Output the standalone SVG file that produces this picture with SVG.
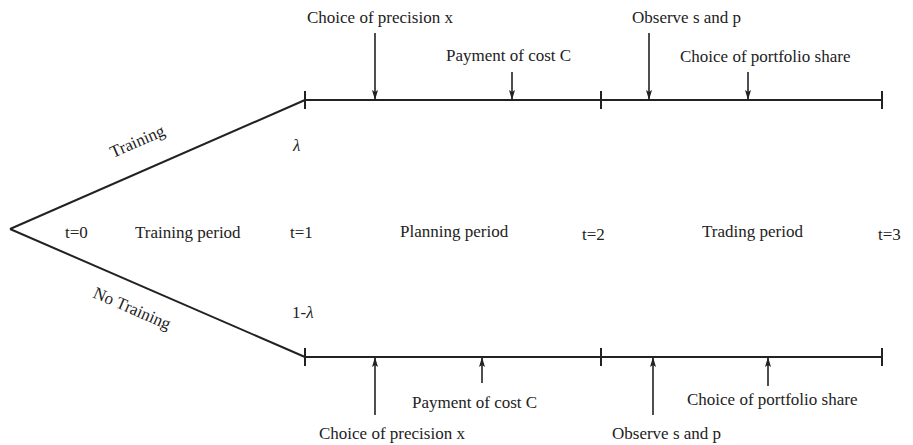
<svg xmlns="http://www.w3.org/2000/svg" width="913" height="445" viewBox="0 0 913 445">
<style>
text{font-family:"Liberation Serif","Times New Roman",serif;font-size:17px;fill:#222}
.ln{stroke:#222;stroke-width:2;fill:none}
.ar{stroke:#222;stroke-width:1.6;fill:none;marker-end:url(#ah)}
.lam{font-style:italic}
</style>
<defs>
<marker id="ah" viewBox="0 0 10 6" refX="10" refY="3" markerWidth="10" markerHeight="6" markerUnits="userSpaceOnUse" orient="auto">
<path d="M0,0 L10,3 L0,6 L2,3 Z" fill="#222"/>
</marker>
</defs>
<g id="connectors">
<line class="ln" x1="10" y1="229" x2="305" y2="100"/>
<line class="ln" x1="10" y1="229" x2="305" y2="357"/>
<line class="ln" x1="305" y1="100" x2="882" y2="100"/>
<line class="ln" x1="305" y1="357" x2="882" y2="357"/>
<line class="ln" x1="305" y1="91" x2="305" y2="109"/>
<line class="ln" x1="601" y1="91" x2="601" y2="109"/>
<line class="ln" x1="882" y1="91" x2="882" y2="109"/>
<line class="ln" x1="305" y1="348" x2="305" y2="366"/>
<line class="ln" x1="601" y1="348" x2="601" y2="366"/>
<line class="ln" x1="882" y1="348" x2="882" y2="366"/>
<line class="ar" x1="375" y1="33" x2="375" y2="100"/>
<line class="ar" x1="512" y1="72" x2="512" y2="100"/>
<line class="ar" x1="649" y1="33" x2="649" y2="100"/>
<line class="ar" x1="748" y1="72" x2="748" y2="100"/>
<line class="ar" x1="375" y1="415" x2="375" y2="357"/>
<line class="ar" x1="482" y1="383" x2="482" y2="357"/>
<line class="ar" x1="653" y1="415" x2="653" y2="357"/>
<line class="ar" x1="768" y1="386" x2="768" y2="357"/>
</g>
<g id="branch-training"><text transform="translate(113,158) rotate(-23.5)">Training</text></g>
<g id="branch-no-training"><text transform="translate(92,297) rotate(23.5)">No Training</text></g>
<g id="prob-lambda"><text x="293" y="151" class="lam">λ</text></g>
<g id="prob-1-lambda"><text x="292" y="318">1-<tspan class="lam">λ</tspan></text></g>
<g id="t0"><text x="65" y="238">t=0</text></g>
<g id="training-period"><text x="135" y="238">Training period</text></g>
<g id="t1"><text x="290" y="238">t=1</text></g>
<g id="planning-period"><text x="400" y="237">Planning period</text></g>
<g id="t2"><text x="582" y="240">t=2</text></g>
<g id="trading-period"><text x="702" y="237">Trading period</text></g>
<g id="t3"><text x="878" y="240">t=3</text></g>
<g id="top-precision"><text x="307" y="23">Choice of precision x</text></g>
<g id="top-cost"><text x="446" y="61">Payment of cost C</text></g>
<g id="top-observe"><text x="632" y="23">Observe s and p</text></g>
<g id="top-portfolio"><text x="680" y="62">Choice of portfolio share</text></g>
<g id="bottom-cost"><text x="412" y="408">Payment of cost C</text></g>
<g id="bottom-precision"><text x="319" y="439">Choice of precision x</text></g>
<g id="bottom-observe"><text x="612" y="439">Observe s and p</text></g>
<g id="bottom-portfolio"><text x="687" y="405">Choice of portfolio share</text></g>
</svg>
